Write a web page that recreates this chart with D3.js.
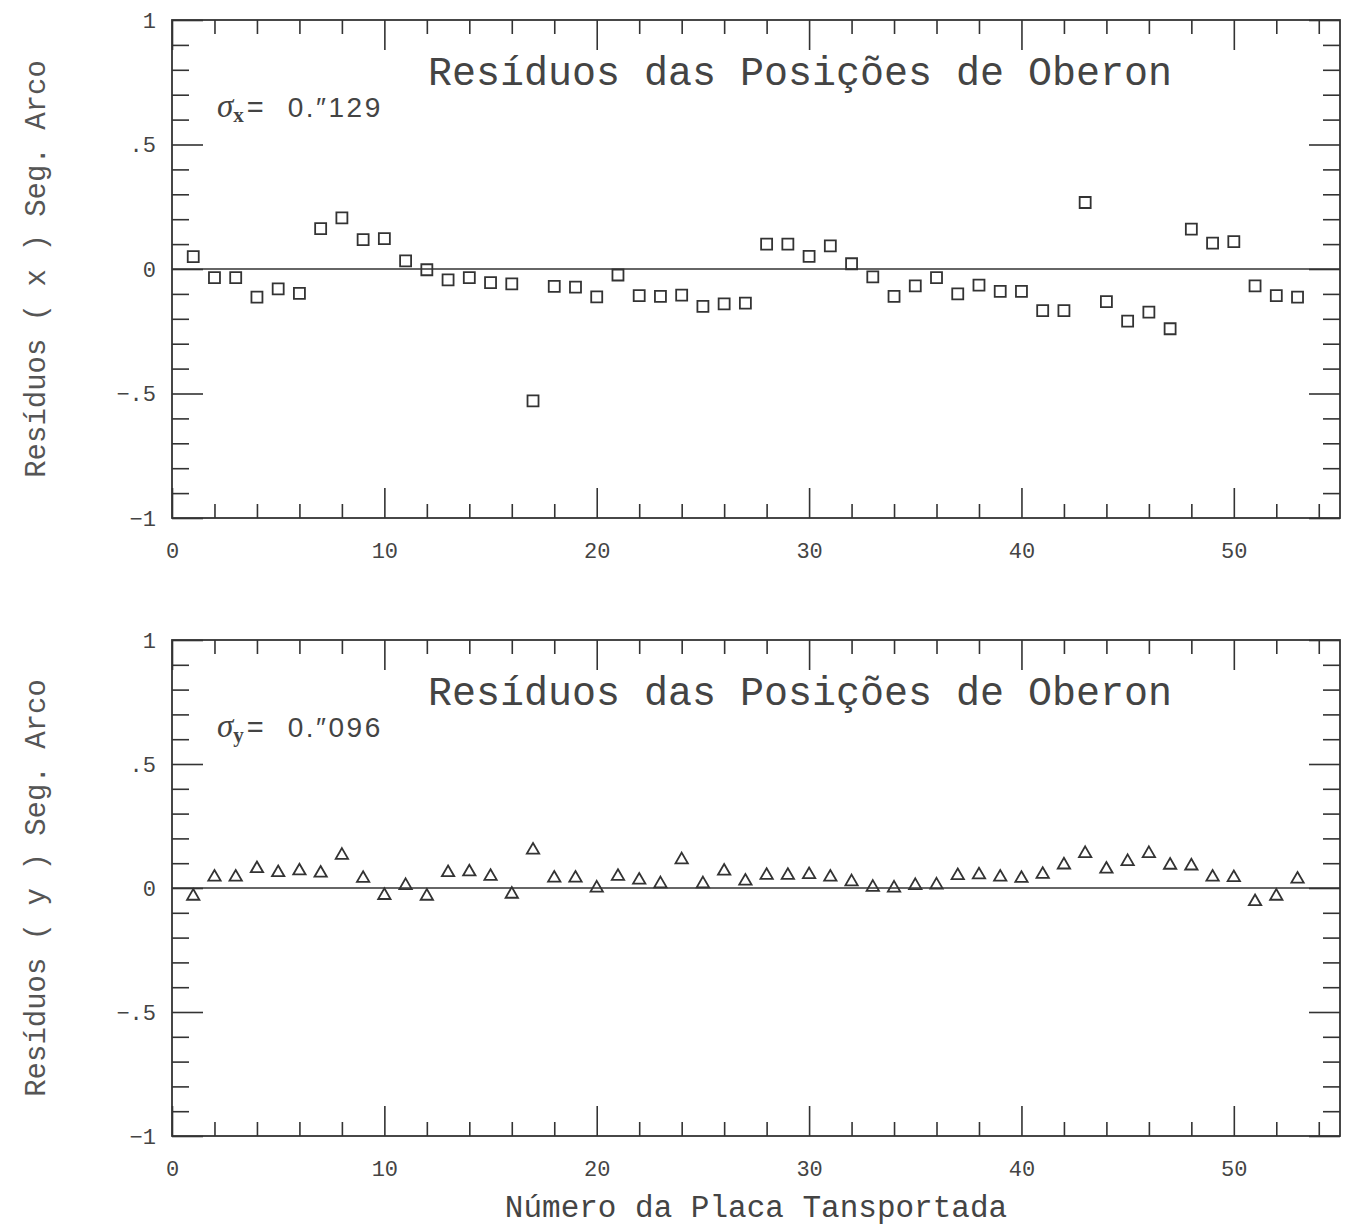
<!DOCTYPE html>
<html>
<head>
<meta charset="utf-8">
<script src="https://cdn.jsdelivr.net/npm/d3@7"></script>
<style>
  body { margin: 0; background: #fff; }
  .tick line { stroke: #333; stroke-width: 1.6; }
  .tick text { font-family: "Liberation Mono", monospace; font-size: 22px; fill: #444; }
</style>
</head>
<body>
<div id="chart"></div>
<script>
// plate numbers (x) and the residuals
const plates = [1, 2, 3, 4, 5, 6, 7, 8, 9, 10, 11, 12, 13, 14, 15, 16, 17, 18, 19, 20,
  21, 22, 23, 24, 25, 26, 27, 28, 29, 30, 31, 32, 33, 34, 35, 36, 37, 38, 39, 40,
  41, 42, 43, 44, 45, 46, 47, 48, 49, 50, 51, 52, 53]

const residX = [0.05, -0.035, -0.035, -0.113, -0.08, -0.098, 0.162, 0.205, 0.118, 0.122,
  0.033, -0.003, -0.044, -0.035, -0.055, -0.06, -0.53, -0.07, -0.073, -0.112,
  -0.024, -0.107, -0.11, -0.105, -0.15, -0.14, -0.137, 0.1, 0.1, 0.051,
  0.093, 0.021, -0.032, -0.11, -0.068, -0.035, -0.1, -0.065, -0.09, -0.09,
  -0.167, -0.167, 0.267, -0.131, -0.209, -0.173, -0.24, 0.16, 0.104, 0.11,
  -0.068, -0.107, -0.113]

const residY = [-0.033, 0.044, 0.044, 0.078, 0.062, 0.069, 0.06, 0.132, 0.039, -0.03,
  0.01, -0.033, 0.062, 0.065, 0.047, -0.025, 0.153, 0.04, 0.04, 0,
  0.047, 0.032, 0.017, 0.114, 0.017, 0.068, 0.028, 0.051, 0.051, 0.054,
  0.044, 0.025, 0.003, 0, 0.01, 0.012, 0.05, 0.053, 0.044, 0.039,
  0.055, 0.093, 0.139, 0.076, 0.107, 0.139, 0.092, 0.089, 0.044, 0.042,
  -0.055, -0.033, 0.036]

const xMajor = [0, 10, 20, 30, 40, 50]
const xMinor = [2, 4, 6, 8, 12, 14, 16, 18, 22, 24, 26, 28, 32, 34, 36, 38, 42, 44, 46, 48, 52, 54]
const yMajor = [-1, -0.5, 0, 0.5, 1]
const yMajorLabels = ["\u22121", "\u2212.5", "0", ".5", "1"]
const yMinor = [-0.9, -0.8, -0.7, -0.6, -0.4, -0.3, -0.2, -0.1, 0.1, 0.2, 0.3, 0.4, 0.6, 0.7, 0.8, 0.9]

const title = "Resíduos das Posições de Oberon"
const yTitles = ["Resíduos ( x ) Seg. Arco", "Resíduos ( y ) Seg. Arco"]
const sigmaSubs = ["x", "y"]
const sigmaVals = ["0.\u2033129", "0.\u2033096"]
const xTitle = "Número da Placa Tansportada"

const width = 1349, height = 1229
const left = 172, right = 1340

const svg = d3.select("#chart").append("svg")
  .attr("width", width)
  .attr("height", height)

const x = d3.scaleLinear().domain([0, 55]).range([left, right])

const panels = [
  { top: 20, bottom: 518, values: residX, symbol: d3.symbolSquare, size: 121 },
  { top: 640, bottom: 1136, values: residY, symbol: d3.symbolTriangle, size: 66 }
]

panels.forEach((p, i) => {
  const y = d3.scaleLinear().domain([-1, 1]).range([p.bottom, p.top])
  const g = svg.append("g")
  const ink = "#333"

  // ticks on all four sides, pointing inward
  const addAxis = (axis, tx, ty) => {
    const a = g.append("g").attr("transform", "translate(" + tx + "," + ty + ")").call(axis)
    a.select(".domain").remove()
    return a
  }
  addAxis(d3.axisBottom(x).tickValues(xMajor).tickSizeInner(-30).tickPadding(24).tickFormat(d3.format("d")), 0, p.bottom)
  addAxis(d3.axisBottom(x).tickValues(xMinor).tickSizeInner(-14).tickFormat(""), 0, p.bottom)
  addAxis(d3.axisTop(x).tickValues(xMajor).tickSizeInner(-30).tickFormat(""), 0, p.top)
  addAxis(d3.axisTop(x).tickValues(xMinor).tickSizeInner(-14).tickFormat(""), 0, p.top)
  addAxis(d3.axisLeft(y).tickValues(yMajor).tickSizeInner(-31).tickPadding(16)
    .tickFormat((d, k) => yMajorLabels[k]), left, 0)
  addAxis(d3.axisLeft(y).tickValues(yMinor).tickSizeInner(-17).tickFormat(""), left, 0)
  addAxis(d3.axisRight(y).tickValues(yMajor).tickSizeInner(-31).tickFormat(""), right, 0)
  addAxis(d3.axisRight(y).tickValues(yMinor).tickSizeInner(-17).tickFormat(""), right, 0)

  // frame
  g.append("rect")
    .attr("x", left).attr("y", p.top)
    .attr("width", right - left).attr("height", p.bottom - p.top)
    .attr("fill", "none").attr("stroke", ink).attr("stroke-width", 1.8)

  // zero line
  g.append("line")
    .attr("x1", left).attr("x2", right)
    .attr("y1", y(0)).attr("y2", y(0))
    .attr("stroke", ink).attr("stroke-width", 1.5)

  // points
  g.selectAll("path.pt")
    .data(plates)
    .join("path")
      .attr("class", "pt")
      .attr("d", d3.symbol(p.symbol, p.size))
      .attr("transform", (d, k) => "translate(" + x(d) + "," + y(p.values[k]) + ")")
      .attr("fill", "none")
      .attr("stroke", ink)
      .attr("stroke-width", 1.8)

  // title inside the frame
  g.append("text")
    .attr("x", 428).attr("y", p.top + 65)
    .attr("font-family", "Liberation Mono, monospace")
    .attr("font-size", 40)
    .attr("fill", "#444")
    .text(title)

  // sigma note
  const s = g.append("text")
    .attr("x", 217).attr("y", p.top + 97)
    .attr("fill", "#444")
  s.append("tspan")
    .attr("font-family", "Liberation Serif, serif")
    .attr("font-style", "italic")
    .attr("font-size", 33)
    .text("\u03c3")
  s.append("tspan")
    .attr("font-family", "Liberation Serif, serif")
    .attr("font-weight", "bold")
    .attr("font-size", 21)
    .attr("dy", 5)
    .text(sigmaSubs[i])
  s.append("tspan")
    .attr("font-family", "Liberation Sans, sans-serif")
    .attr("font-size", 29)
    .attr("dy", -5)
    .attr("dx", 3)
    .text("=")
  s.append("tspan")
    .attr("font-family", "Liberation Sans, sans-serif")
    .attr("font-size", 28)
    .attr("letter-spacing", 2.5)
    .attr("dx", 24)
    .text(sigmaVals[i])

  // y axis title
  g.append("text")
    .attr("transform", "translate(45," + ((p.top + p.bottom) / 2) + ") rotate(-90)")
    .attr("text-anchor", "middle")
    .attr("font-family", "Liberation Mono, monospace")
    .attr("font-size", 29)
    .attr("fill", "#555")
    .text(yTitles[i])
})

svg.append("text")
  .attr("x", 756).attr("y", 1217)
  .attr("text-anchor", "middle")
  .attr("font-family", "Liberation Mono, monospace")
  .attr("font-size", 31)
  .attr("fill", "#444")
  .text(xTitle)
</script>
</body>
</html>
